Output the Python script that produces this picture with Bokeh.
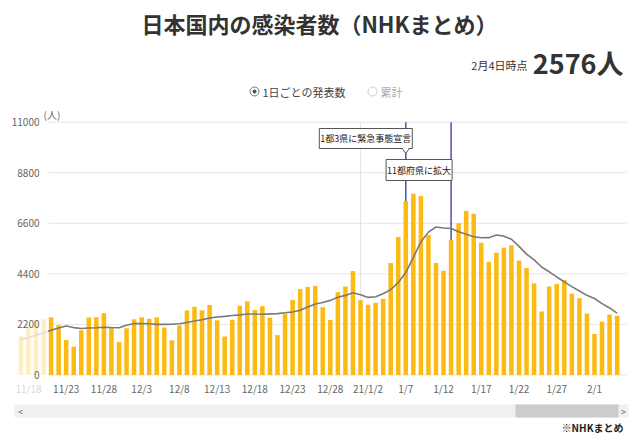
import pandas as pd
from bokeh.plotting import figure
from bokeh.models import Range1d
from bokeh.core.properties import value
from bokeh.embed import file_html
from bokeh.resources import INLINE

# ---------------- data ----------------
dates = pd.date_range("2020-11-17", "2021-02-04", freq="D")
date_labels = [f"{d.month}/{d.day}" for d in dates]

daily_cases = [
    1698, 2201, 2388, 2425, 2508, 2168, 1520, 1228, 1945, 2501, 2512, 2684, 2067, 1434,
    2031, 2431, 2508, 2443, 2509, 2067, 1509, 2155, 2804, 2973,
    2813, 3041, 2387, 1680, 2404, 3018, 3211, 2826, 2994, 2495,
    1735, 2663, 3269, 3740, 3831, 3881, 2948, 2395, 3604, 3852, 4520,
    3256, 3057, 3141, 3313, 4871, 6001, 7570, 7882, 7790, 6094,
    4875, 4537, 5867, 6604, 7133, 7014, 5759, 4925, 5320, 5541,
    5650, 4979, 4663, 3990, 2764, 3853, 3961, 4131, 3542, 3342, 2673,
    1785, 2324, 2631, 2576,
]
avg_7day = [
    1533, 1627, 1731, 1834, 1944, 2048, 2130, 2063, 2026, 2042, 2055, 2080, 2065, 2053,
    2168, 2237, 2238, 2228, 2203, 2203, 2214, 2232, 2285, 2351,
    2404, 2480, 2526, 2550, 2586, 2617, 2651, 2652, 2646, 2661,
    2669, 2706, 2742, 2817, 2961, 3088, 3152, 3247, 3381, 3464, 3576,
    3494, 3376, 3404, 3535, 3716, 4023, 4458, 5119, 5795, 6217,
    6440, 6393, 6374, 6236, 6129, 6018, 5970, 5977, 6089, 6042,
    5906, 5598, 5262, 5010, 4701, 4491, 4266, 4049, 3843, 3655, 3467,
    3327, 3108, 2918, 2696,
]
y_ticks = [0, 2200, 4400, 6600, 8800, 11000]
x_tick_dates = ["11/18", "11/23", "11/28", "12/3", "12/8", "12/13", "12/18", "12/23",
                "12/28", "1/2", "1/7", "1/12", "1/17", "1/22", "1/27", "2/1"]
x_tick_text = ["11/18", "11/23", "11/28", "12/3", "12/8", "12/13", "12/18", "12/23",
               "12/28", "21/1/2", "1/7", "1/12", "1/17", "1/22", "1/27", "2/1"]
event_dates = ["1/7", "1/13"]
event_text = ["1都3県に緊急事態宣言", "11都府県に拡大"]
year_mark = "1/1"
title_text = "日本国内の感染者数（NHKまとめ）"
latest_label = "2月4日時点"
latest_value = "2576人"
legend_items = ["1日ごとの発表数", "累計"]
source_text = "※NHKまとめ"

# ---------------- layout helpers (page px -> data units) ----------------
W, H = 640, 436
OFF = 0          # page offset of the canvas
PXD = 7.547      # px per day
X0PX = 20.4      # page x of first bar
PXU = 0.022982   # px per person
Y0PX = 374.5     # page y of zero line


def X(px):
    return (px - X0PX) / PXD


def Y(py):
    return (Y0PX - py) / PXU


FONT = value("Noto Sans CJK JP")
idx = list(range(len(date_labels)))
pos = {lab: i for i, lab in enumerate(date_labels)}

p = figure(width=W, height=H, frame_width=W, frame_height=H, min_border=0,
           output_backend="svg", toolbar_location=None,
           x_axis_location=None, y_axis_location=None,
           x_range=Range1d(X(OFF), X(OFF + W)), y_range=Range1d(Y(OFF + H), Y(OFF)))
p.grid.visible = False
p.outline_line_color = None
p.background_fill_color = "white"
p.border_fill_color = "white"

# grid lines
n = len(y_ticks)
p.segment(x0=[X(48)] * n, x1=[X(626)] * n, y0=y_ticks, y1=y_ticks,
          line_color="#e6e6e6", line_width=1)
p.segment(x0=[pos[year_mark]], x1=[pos[year_mark]], y0=[0], y1=[y_ticks[-1]],
          line_color="#e6e6e6", line_width=1)

# event lines (behind bars)
ev_x = [pos[d] for d in event_dates]
p.segment(x0=ev_x, x1=ev_x, y0=[0] * 2, y1=[y_ticks[-1]] * 2,
          line_color="#5050aa", line_width=1.5)

# bars + 7-day average
p.vbar(x=idx, top=daily_cases, width=0.6, fill_color="#FBBA14", line_color=None)
p.line(x=idx, y=avg_7day, line_color="#7a7a7a", line_width=1.6)

# faded scroll area on the left
p.quad(left=[X(0)], right=[X(47.5)], bottom=[Y(380)], top=[Y(110)],
       fill_color="white", fill_alpha=0.75, line_color=None)

# y tick labels
p.text(x=[X(39)] * n, y=y_ticks, text=[str(t) for t in y_ticks], text_font=FONT,
       text_font_size="10px", text_align="right", text_baseline="middle", text_color="#666666")
p.text(x=[X(43)], y=[Y(114)], text=["(人)"], text_font=FONT, text_font_size="10px",
       text_align="left", text_baseline="middle", text_color="#666666")

# x tick labels
xt = [pos[d] for d in x_tick_dates]
colors = ["#d9d9d9"] + ["#666666"] * (len(xt) - 1)
p.text(x=xt, y=[Y(388)] * len(xt), text=x_tick_text, text_font=FONT, text_font_size="10px",
       text_align="center", text_baseline="middle", text_color=colors)

# event callouts
e1 = X0PX + pos[event_dates[0]] * PXD
e2 = X0PX + pos[event_dates[1]] * PXD
boxes = [(e1 - 86.5, e1 + 6.5, 128, 148), (e2 - 65, e2 + 1, 159, 180)]
for (l, r, t, b), txt in zip(boxes, event_text):
    p.quad(left=[X(l)], right=[X(r)], top=[Y(t)], bottom=[Y(b)],
           fill_color="white", line_color="#555555", line_width=1)
    p.text(x=[X((l + r) / 2)], y=[Y((t + b) / 2)], text=[txt], text_font=FONT,
           text_font_size="9px", text_align="center", text_baseline="middle", text_color="#222222")
# pointer of first callout
p.patch(x=[X(e1 - 3.5), X(e1), X(e1 + 3.5)], y=[Y(147), Y(153), Y(147)],
        fill_color="white", line_color=None)
p.line(x=[X(e1 - 3.5), X(e1), X(e1 + 3.5)], y=[Y(148), Y(153), Y(148)],
       line_color="#555555", line_width=1)

# title and header
p.text(x=[X(319)], y=[Y(22)], text=[title_text], text_font=FONT, text_font_size="22px",
       text_font_style="bold", text_align="center", text_baseline="middle", text_color="#333333")
p.text(x=[X(527)], y=[Y(64)], text=[latest_label], text_font=FONT, text_font_size="11px",
       text_align="right", text_baseline="middle", text_color="#333333")
p.text(x=[X(623)], y=[Y(62)], text=[latest_value], text_font=FONT, text_font_size="27px",
       text_font_style="bold", text_align="right", text_baseline="middle", text_color="#333333")

# legend radio buttons
p.scatter(x=[X(254), X(372)], y=[Y(91)] * 2, size=9, marker="circle",
          fill_color="white", line_color=["#777777", "#cccccc"], line_width=1)
p.scatter(x=[X(254)], y=[Y(91)], size=4, marker="circle", fill_color="#555555", line_color=None)
p.text(x=[X(262), X(380)], y=[Y(91)] * 2, text=legend_items, text_font=FONT,
       text_font_size="11px", text_align="left", text_baseline="middle",
       text_color=["#444444", "#aaaaaa"])

# scrollbar
p.quad(left=[X(14)], right=[X(628)], top=[Y(404)], bottom=[Y(417)],
       fill_color="#f0f0f0", line_color=None)
p.quad(left=[X(515)], right=[X(618)], top=[Y(404)], bottom=[Y(417)],
       fill_color="#cccccc", line_color=None)
p.text(x=[X(20), X(623)], y=[Y(410.5)] * 2, text=["<", ">"], text_font=FONT,
       text_font_size="9px", text_align="center", text_baseline="middle", text_color="#666666")

# source
p.text(x=[X(623)], y=[Y(427)], text=[source_text], text_font=FONT, text_font_size="10px",
       text_font_style="bold", text_align="right", text_baseline="middle", text_color="#222222")

open("out.html", "w").write(file_html(p, INLINE))
